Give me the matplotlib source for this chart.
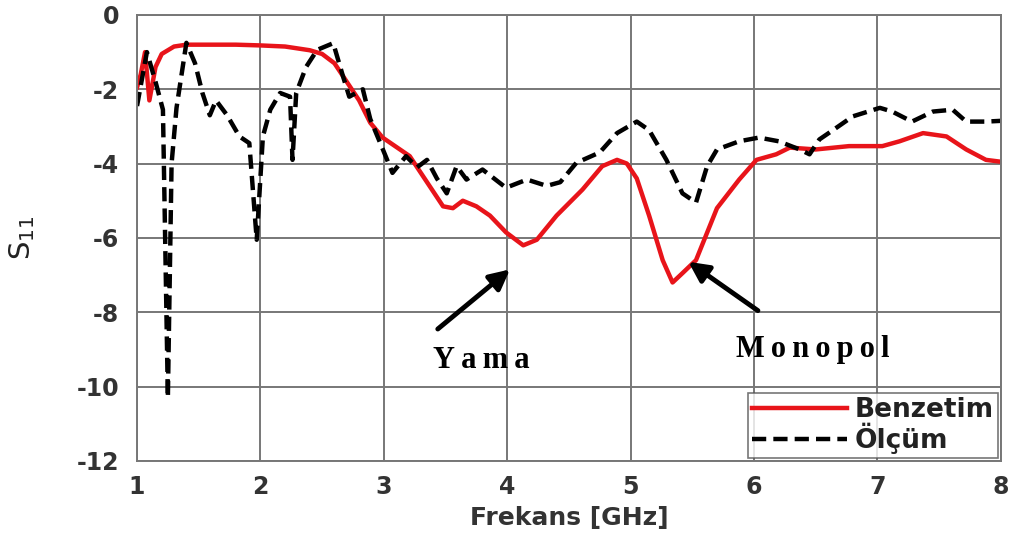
import numpy as np
import matplotlib.pyplot as plt

# Benzetim (simulation) - red solid
f_sim = [1.0, 1.03, 1.065, 1.1, 1.15, 1.2, 1.3, 1.4, 1.6, 1.8, 2.0, 2.2, 2.4, 2.5, 2.6, 2.72,
         2.8, 2.89, 2.99, 3.1, 3.21, 3.35, 3.48, 3.56, 3.64, 3.75, 3.86, 3.99, 4.13, 4.24,
         4.4, 4.61, 4.77, 4.89, 4.97, 5.05, 5.15, 5.26, 5.34, 5.42, 5.53, 5.7, 5.88, 6.02,
         6.18, 6.29, 6.5, 6.77, 7.04, 7.18, 7.37, 7.56, 7.72, 7.88, 8.0]
s_sim = [-1.95, -1.6, -1.0, -2.3, -1.4, -1.05, -0.85, -0.8, -0.8, -0.8, -0.82, -0.85, -0.95,
         -1.05, -1.3, -1.9, -2.3, -2.9, -3.3, -3.55, -3.8, -4.5, -5.15, -5.2, -5.0, -5.15,
         -5.4, -5.85, -6.2, -6.05, -5.4, -4.7, -4.07, -3.9, -4.0, -4.4, -5.4, -6.6, -7.2,
         -6.95, -6.6, -5.2, -4.43, -3.9, -3.75, -3.57, -3.62, -3.53, -3.53, -3.4, -3.18,
         -3.27, -3.62, -3.9, -3.95]

# Ölçüm (measurement) - black dashed
f_meas = [1.0, 1.08, 1.15, 1.21, 1.25, 1.28, 1.32, 1.4, 1.47, 1.53, 1.59, 1.64, 1.73, 1.83,
          1.91, 1.97, 2.02, 2.08, 2.16, 2.24, 2.26, 2.29, 2.37, 2.46, 2.59, 2.67, 2.72, 2.83,
          2.89, 2.99, 3.07, 3.18, 3.27, 3.35, 3.43, 3.51, 3.59, 3.67, 3.8, 3.99, 4.16, 4.32,
          4.43, 4.56, 4.75, 4.89, 5.05, 5.15, 5.29, 5.42, 5.53, 5.62, 5.7, 5.88, 6.04, 6.2,
          6.37, 6.45, 6.53, 6.64, 6.8, 7.02, 7.12, 7.28, 7.45, 7.61, 7.72, 7.88, 8.0]
s_meas = [-2.45, -1.0, -1.8, -2.55, -10.3, -4.0, -2.5, -0.75, -1.3, -2.1, -2.7, -2.3, -2.7,
          -3.27, -3.45, -6.05, -3.27, -2.55, -2.1, -2.2, -3.9, -2.1, -1.4, -0.94, -0.76,
          -1.66, -2.2, -2.0, -2.8, -3.6, -4.25, -3.8, -4.1, -3.9, -4.4, -4.8, -4.07, -4.43,
          -4.16, -4.65, -4.43, -4.6, -4.5, -3.98, -3.7, -3.18, -2.87, -3.1, -3.9, -4.8,
          -5.05, -4.07, -3.62, -3.4, -3.3, -3.4, -3.62, -3.75, -3.35, -3.1, -2.73, -2.5,
          -2.6, -2.87, -2.6, -2.55, -2.87, -2.87, -2.85]

plt.rcParams['font.family'] = ['DejaVu Sans']
plt.rcParams['axes.unicode_minus'] = False

fig = plt.figure(figsize=(10.15, 5.34), dpi=100)
ax = fig.add_axes([0.135, 0.137, 0.851, 0.835])

ax.plot(f_sim, s_sim, color='#e8141a', lw=3.2, label='Benzetim')
ax.plot(f_meas, s_meas, color='black', lw=3.2, ls=(0, (3.2, 1.6)), label='Ölçüm')

ax.set_xlim(1, 8)
ax.set_ylim(-12, 0)
ax.set_xticks(range(1, 9))
ax.set_yticks(range(-12, 1, 2))
ax.grid(True, color='#777777', lw=1.4)
for sp in ax.spines.values():
    sp.set_color('#777777')
    sp.set_linewidth(1.4)
ax.tick_params(length=0, labelsize=17)
ax.tick_params(axis='x', pad=10)
ax.tick_params(axis='y', pad=13)
for lab in ax.get_xticklabels() + ax.get_yticklabels():
    lab.set_fontweight('bold')
    lab.set_color('#333333')

ax.set_xlabel('Frekans [GHz]', fontsize=18, fontweight='bold', color='#333333', labelpad=5)
ax.set_ylabel('S$_{11}$', fontsize=21, color='#222222', labelpad=28)

# annotations
thin = '\u2009'
ax.annotate('', xy=(4.04, -6.8), xytext=(3.42, -8.5),
            arrowprops=dict(arrowstyle='-|>', color='black', lw=3.5, mutation_scale=30))
ax.text(3.79, -9.3, thin.join('Yama'), fontsize=22, fontweight='bold',
        family=['Liberation Serif', 'DejaVu Serif'], ha='center', va='center')
ax.annotate('', xy=(5.45, -6.6), xytext=(6.05, -8.0),
            arrowprops=dict(arrowstyle='-|>', color='black', lw=3.5, mutation_scale=30))
ax.text(6.48, -9.0, thin.join('Monopol'), fontsize=22, fontweight='bold',
        family=['Liberation Serif', 'DejaVu Serif'], ha='center', va='center')

leg = ax.legend(loc='lower right', prop={'weight': 'bold', 'size': 19},
                frameon=True, fancybox=False, borderpad=0.15, handlelength=3.6,
                handletextpad=0.3, labelspacing=0.0, borderaxespad=0.1)
leg.get_frame().set_edgecolor('#555555')
leg.get_frame().set_linewidth(1.2)
for t in leg.get_texts():
    t.set_color('#222222')

fig.savefig('out.png', dpi=100)
